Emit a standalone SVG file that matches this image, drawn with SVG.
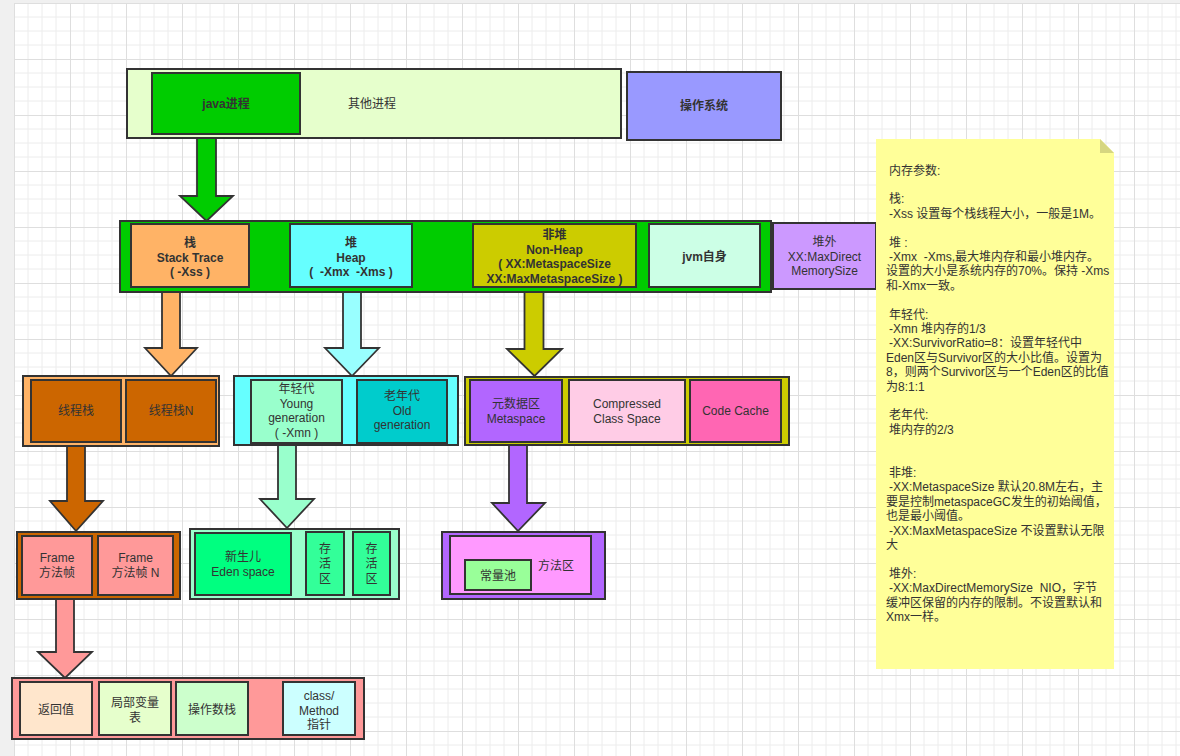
<svg xmlns="http://www.w3.org/2000/svg" width="1180" height="756" viewBox="0 0 1180 756">
<defs>
<pattern id="grid" x="14" y="3" width="56" height="56" patternUnits="userSpaceOnUse">
<path d="M14 0V56M28 0V56M42 0V56M0 14H56M0 28H56M0 42H56" stroke="#ececec" stroke-width="1" fill="none"/>
<path d="M0.5 0V56M0 0.5H56" stroke="#dedede" stroke-width="1" fill="none"/>
</pattern>
<style>
.b{stroke:#333;stroke-width:2}
.a{stroke:#333;stroke-width:1.8;stroke-linejoin:miter}
text{font-family:"Liberation Sans","Noto Sans CJK SC",sans-serif;font-size:12px;fill:#333}
.c{text-anchor:middle}
.w{font-weight:bold}
.n{font-size:12px}
</style>
</defs>
<rect x="0" y="0" width="1180" height="756" fill="#f0f0f0"/>
<rect x="14" y="3" width="1166" height="753" fill="#ffffff"/>
<rect x="14" y="3" width="1166" height="753" fill="url(#grid)"/>

<g id="connectors">
<polygon class="a" fill="#00cc00" points="197,134 216,134 216,196 233,196 206.5,221 180,196 197,196"/>
<polygon class="a" fill="#ffb366" points="162,292 180,292 180,348 197,348 171,376 145,348 162,348"/>
<polygon class="a" fill="#99ffff" points="343,292 361,292 361,348 379,348 352,376 325,348 343,348"/>
<polygon class="a" fill="#cccc00" points="524.5,292 543.5,292 543.5,349 562,349 534.5,376 507,349 524.5,349"/>
<polygon class="a" fill="#cc6600" points="67,446 85,446 85,501 103,501 76,531 50,501 67,501"/>
<polygon class="a" fill="#99ffcc" points="278,445 296,445 296,499 314,499 287,528 260,499 278,499"/>
<polygon class="a" fill="#b266ff" points="509,445 527,445 527,503 545,503 518,531 492,503 509,503"/>
<polygon class="a" fill="#ff9999" points="56,599 74,599 74,652 92,652 65,678 38,652 56,652"/>
</g>

<g id="other-process">
<rect class="b" x="127" y="69" width="494" height="69" fill="#e6ffcc"/>
<text class="c" x="372" y="108">其他进程</text>
</g>
<g id="java-process">
<rect class="b" x="152" y="73" width="148" height="61" fill="#00cc00"/>
<text class="c w" x="226" y="108">java进程</text>
</g>
<g id="os">
<rect class="b" x="627" y="72" width="154" height="68" fill="#9999ff"/>
<text class="c w" x="704" y="110">操作系统</text>
</g>

<g id="jvm-memory">
<rect class="b" x="120" y="221" width="651" height="71" fill="#00cc00"/>
</g>
<g id="stack">
<rect class="b" x="131" y="224" width="118" height="63" fill="#ffb366"/>
<text class="c w" x="190" y="247">栈<tspan x="190" dy="14.5">Stack Trace</tspan><tspan x="190" dy="14.5" xml:space="preserve">( -Xss )</tspan></text>
</g>
<g id="heap">
<rect class="b" x="290" y="224" width="122" height="63" fill="#66ffff"/>
<text class="c w" x="351" y="247">堆<tspan x="351" dy="14.5">Heap</tspan><tspan x="351" dy="14.5" xml:space="preserve">(  -Xmx  -Xms )</tspan></text>
</g>
<g id="non-heap">
<rect class="b" x="473" y="224" width="163" height="63" fill="#cccc00"/>
<text class="c w" x="554.5" y="239">非堆<tspan x="554.5" dy="14.5">Non-Heap</tspan><tspan x="554.5" dy="14.5">( XX:MetaspaceSize</tspan><tspan x="554.5" dy="14.5">XX:MaxMetaspaceSize )</tspan></text>
</g>
<g id="jvm-self">
<rect class="b" x="649" y="224" width="111" height="63" fill="#ccffe6"/>
<text class="c w" x="704.5" y="261">jvm自身</text>
</g>
<g id="off-heap">
<rect class="b" x="773" y="223" width="103" height="66" fill="#cc99ff"/>
<text class="c" x="824.5" y="246">堆外<tspan x="824.5" dy="14.5">XX:MaxDirect</tspan><tspan x="824.5" dy="14.5">MemorySize</tspan></text>
</g>

<g id="thread-stacks">
<rect class="b" x="23" y="376" width="196" height="70" fill="#ffb366"/>
<rect class="b" x="31" y="380" width="90" height="62" fill="#cc6600"/>
<text class="c" x="76" y="415">线程栈</text>
<rect class="b" x="126" y="380" width="90" height="62" fill="#cc6600"/>
<text class="c" x="171" y="415">线程栈N</text>
</g>
<g id="heap-generations">
<rect class="b" x="234" y="376" width="224" height="69" fill="#66ffff"/>
<rect class="b" x="251" y="380" width="91" height="63" fill="#99ffcc"/>
<text class="c" x="296.5" y="393">年轻代<tspan x="296.5" dy="14.6">Young</tspan><tspan x="296.5" dy="14.6">generation</tspan><tspan x="296.5" dy="14.6">( -Xmn )</tspan></text>
<rect class="b" x="357" y="380" width="90" height="63" fill="#00cccc"/>
<text class="c" x="402" y="400">老年代<tspan x="402" dy="14.6">Old</tspan><tspan x="402" dy="14.6">generation</tspan></text>
</g>
<g id="non-heap-detail">
<rect class="b" x="465" y="377" width="324" height="68" fill="#cccc00"/>
<rect class="b" x="470" y="380" width="92" height="62" fill="#b266ff"/>
<text class="c" x="516" y="408">元数据区<tspan x="516" dy="14.6">Metaspace</tspan></text>
<rect class="b" x="569" y="380" width="116" height="62" fill="#ffcce6"/>
<text class="c" x="627" y="408">Compressed<tspan x="627" dy="14.6">Class Space</tspan></text>
<rect class="b" x="690" y="380" width="91" height="62" fill="#ff66b3"/>
<text class="c" x="735.5" y="415">Code Cache</text>
</g>

<g id="frames">
<rect class="b" x="17" y="532" width="163" height="67" fill="#cc6600"/>
<rect class="b" x="22" y="536" width="70" height="59" fill="#ff9999"/>
<text class="c" x="57" y="562">Frame<tspan x="57" dy="14.6">方法帧</tspan></text>
<rect class="b" x="98" y="536" width="75" height="59" fill="#ff9999"/>
<text class="c" x="135.5" y="562">Frame<tspan x="135.5" dy="14.6">方法帧 N</tspan></text>
</g>
<g id="young-generation">
<rect class="b" x="190" y="529" width="209" height="70" fill="#99ffcc"/>
<rect class="b" x="195" y="533" width="96" height="62" fill="#00ff80"/>
<text class="c" x="243" y="561">新生儿<tspan x="243" dy="14.6">Eden space</tspan></text>
<rect class="b" x="306" y="532" width="38" height="63" fill="#33ff99"/>
<text class="c" x="325" y="553">存<tspan x="325" dy="15">活</tspan><tspan x="325" dy="15">区</tspan></text>
<rect class="b" x="353" y="532" width="37" height="63" fill="#33ff99"/>
<text class="c" x="371.5" y="553">存<tspan x="371.5" dy="15">活</tspan><tspan x="371.5" dy="15">区</tspan></text>
</g>
<g id="metaspace">
<rect class="b" x="442" y="532" width="163" height="67" fill="#b266ff"/>
<rect class="b" x="450" y="536" width="141" height="58" fill="#ff99ff"/>
<text class="c" x="556" y="570">方法区</text>
<rect class="b" x="465" y="560" width="66" height="30" fill="#99ff99"/>
<text class="c" x="498" y="580">常量池</text>
</g>

<g id="frame-detail">
<rect class="b" x="12" y="678" width="352" height="61" fill="#ff9999"/>
<rect class="b" x="20" y="682" width="72" height="53" fill="#ffe6cc"/>
<text class="c" x="56" y="714">返回值</text>
<rect class="b" x="99" y="682" width="72" height="53" fill="#e6ffcc"/>
<text class="c" x="135" y="707">局部变量<tspan x="135" dy="15">表</tspan></text>
<rect class="b" x="176" y="682" width="72" height="53" fill="#ccffcc"/>
<text class="c" x="212" y="714">操作数栈</text>
<rect class="b" x="283" y="682" width="72" height="53" fill="#ccffff"/>
<text class="c" x="319" y="700">class/<tspan x="319" dy="14.5">Method</tspan><tspan x="319" dy="14.5">指针</tspan></text>
</g>

<g id="note">
<polygon points="876,139 1100,139 1114,153 1114,669 876,669" fill="#ffff99"/>
<polygon points="1100,139 1114,153 1100,153" fill="#d6d680"/>
<text class="n" xml:space="preserve">
<tspan x="889" y="174.5">内存参数:</tspan>
<tspan x="889" y="203.3">栈:</tspan>
<tspan x="889" y="217.7">-Xss 设置每个栈线程大小，一般是1M。</tspan>
<tspan x="889" y="246.5">堆 :</tspan>
<tspan x="889" y="260.9">-Xmx  -Xms,最大堆内存和最小堆内存。</tspan>
<tspan x="886" y="275.3">设置的大小是系统内存的70%。保持 -Xms</tspan>
<tspan x="886" y="289.7">和-Xmx一致。</tspan>
<tspan x="889" y="318.5">年轻代:</tspan>
<tspan x="889" y="332.9">-Xmn 堆内存的1/3</tspan>
<tspan x="889" y="347.3">-XX:SurvivorRatio=8：设置年轻代中</tspan>
<tspan x="886" y="361.7">Eden区与Survivor区的大小比值。设置为</tspan>
<tspan x="886" y="376.1">8，则两个Survivor区与一个Eden区的比值</tspan>
<tspan x="886" y="390.5">为8:1:1</tspan>
<tspan x="889" y="419.3">老年代:</tspan>
<tspan x="889" y="433.7">堆内存的2/3</tspan>
<tspan x="889" y="476.9">非堆:</tspan>
<tspan x="889" y="491.3">-XX:MetaspaceSize 默认20.8M左右，主</tspan>
<tspan x="886" y="505.7">要是控制metaspaceGC发生的初始阈值，</tspan>
<tspan x="886" y="520.1">也是最小阈值。</tspan>
<tspan x="889" y="534.5">-XX:MaxMetaspaceSize 不设置默认无限</tspan>
<tspan x="886" y="548.9">大</tspan>
<tspan x="889" y="577.7">堆外:</tspan>
<tspan x="889" y="592.1">-XX:MaxDirectMemorySize  NIO，字节</tspan>
<tspan x="886" y="606.5">缓冲区保留的内存的限制。不设置默认和</tspan>
<tspan x="886" y="620.9">Xmx一样。</tspan>
</text>
</g>
</svg>
